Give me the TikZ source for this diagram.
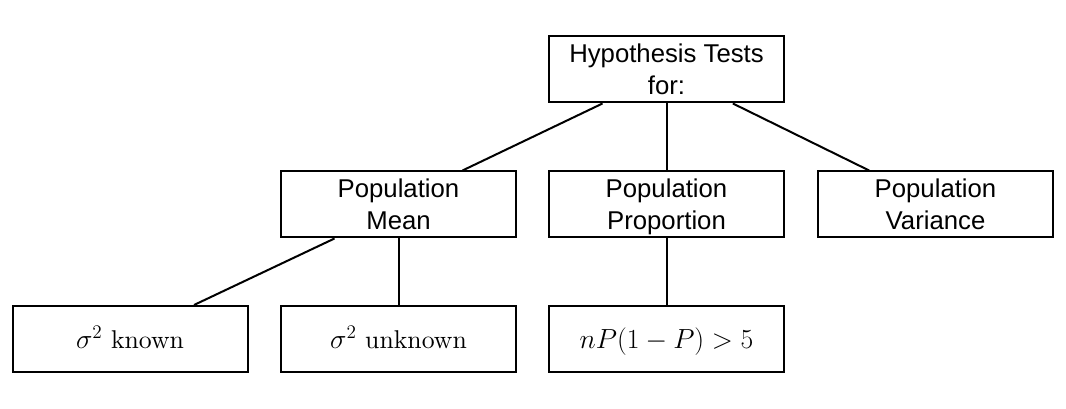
\documentclass[tikz,border=0pt]{standalone}
\usepackage{fontspec}
\setsansfont{Liberation Sans}
\newfontfamily\lmten[Extension=.otf]{lmroman10-regular}
\usetikzlibrary{calc}

\newcommand{\topstrut}{\rule{0pt}{19.5pt}}
\newcommand{\botstrut}{\rule[-5.4pt]{0pt}{5.4pt}}

\tikzset{every picture/.style={line width=1.5pt}}
\tikzset{
  testbox/.style={draw, fill=white, minimum width=176.25pt, minimum height=49.5pt,
    inner sep=0pt, align=center, font=\sffamily\fontsize{19.3}{24}\selectfont},
  mathbox/.style={testbox, font=\lmten\fontsize{19.3}{24}\selectfont}
}

\begin{document}
\begin{tikzpicture}[x=0.75pt,y=0.75pt,yscale=-1]
\useasboundingbox (0,0) rectangle (1066,409);

%Shape: Rectangle [top]
\node [testbox] (tests) at (666.5,69.5) {\topstrut Hypothesis Tests\\\botstrut for:};
%Shape: Rectangle [second row]
\node [testbox] (mean) at (398.5,204.5) {\topstrut Population\\\botstrut Mean};
\node [testbox] (prop) at (666.5,204.5) {\topstrut Population\\\botstrut Proportion};
\node [testbox] (var) at (935.5,204.5) {\topstrut Population\\\botstrut Variance};
%Shape: Rectangle [third row]
\node [mathbox] (known) at (130,339) {\topstrut\botstrut$\sigma^2$ known};
\node [mathbox] (unknown) at (398.5,339) {\topstrut\botstrut$\sigma^2$ unknown};
\node [mathbox] (npp) at (666.5,339) {\topstrut\botstrut$nP(1-P)>5$};

%Straight Lines
\draw ($(tests.south west)!0.23!(tests.south east)$) -- ($(mean.north west)!0.77!(mean.north east)$) ;
\draw (tests.south) -- (prop.north) ;
\draw ($(tests.south west)!0.78!(tests.south east)$) -- ($(var.north west)!0.22!(var.north east)$) ;
\draw ($(mean.south west)!0.23!(mean.south east)$) -- ($(known.north west)!0.77!(known.north east)$) ;
\draw (mean.south) -- (unknown.north) ;
\draw (prop.south) -- (npp.north) ;

\end{tikzpicture}
\end{document}
